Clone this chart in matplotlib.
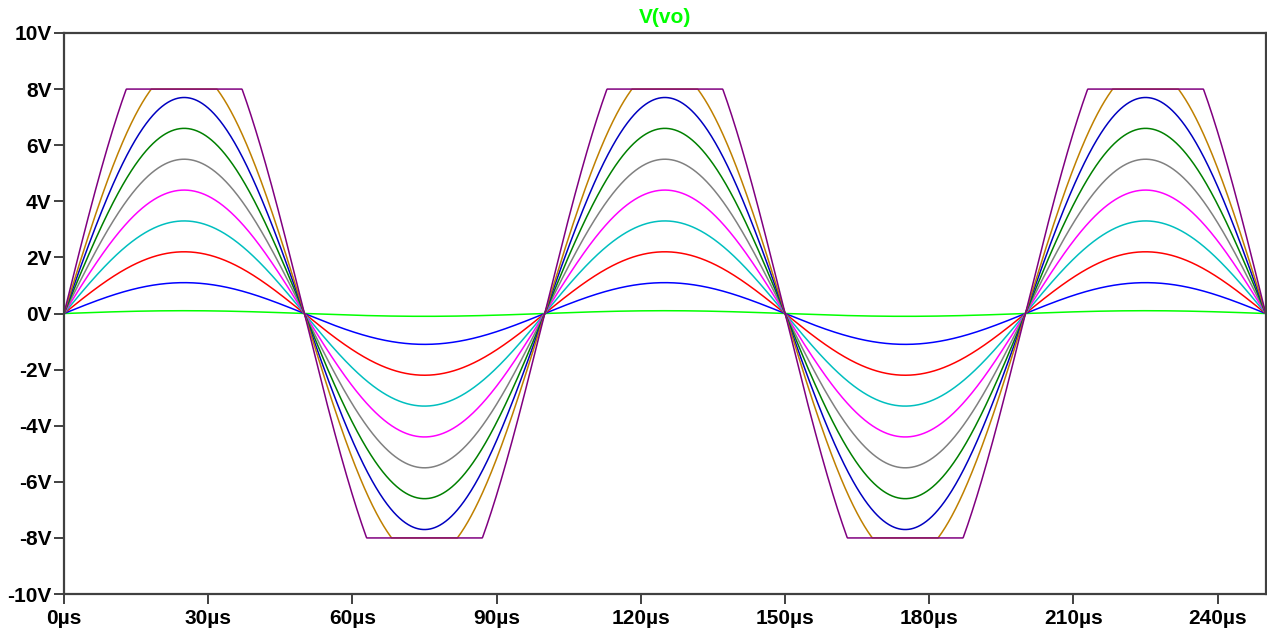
import numpy as np
import matplotlib.pyplot as plt

# stepped sine sweep, output clipped by the rails
period_us = 100.0
rail_v = 8.0
amplitudes = [0.1, 1.1, 2.2, 3.3, 4.4, 5.5, 6.6, 7.7, 8.8, 11.0]
colors = ["#00ff00", "#0000ff", "#ff0000", "#00bfbf", "#ff00ff",
          "#808080", "#008000", "#0000c0", "#bf8000", "#800080"]

y_ticks = [-10, -8, -6, -4, -2, 0, 2, 4, 6, 8, 10]
x_ticks = [0, 30, 60, 90, 120, 150, 180, 210, 240]

t = np.linspace(0, 250, 2501)

fig = plt.figure(figsize=(12.67, 6.34), dpi=100)
ax = fig.add_axes([0.0505, 0.063, 0.9485, 0.885])

for amp, c in zip(amplitudes, colors):
    v = np.clip(amp * np.sin(2 * np.pi * t / period_us), -rail_v, rail_v)
    ax.plot(t, v, color=c, lw=1.1)

ax.set_xlim(0, 250)
ax.set_ylim(-10, 10)
ax.set_yticks(y_ticks)
ax.set_yticklabels([f"{v}V" for v in y_ticks])
ax.set_xticks(x_ticks)
ax.set_xticklabels([f"{v}\u00b5s" for v in x_ticks])

for s in ax.spines.values():
    s.set_color("#404040")
    s.set_linewidth(1.6)
ax.tick_params(direction="out", length=7, width=1.4, color="#404040",
               labelsize=15, pad=2)
ax.tick_params(axis="x", pad=4)
for lab in ax.get_xticklabels() + ax.get_yticklabels():
    lab.set_fontfamily("Liberation Sans")
    lab.set_fontweight("bold")

fig.text(0.525, 0.972, "V(vo)", color="#00ff00", fontsize=15,
         fontweight="bold", family="Liberation Sans", ha="center", va="center")

fig.savefig("out.png", dpi=100)
